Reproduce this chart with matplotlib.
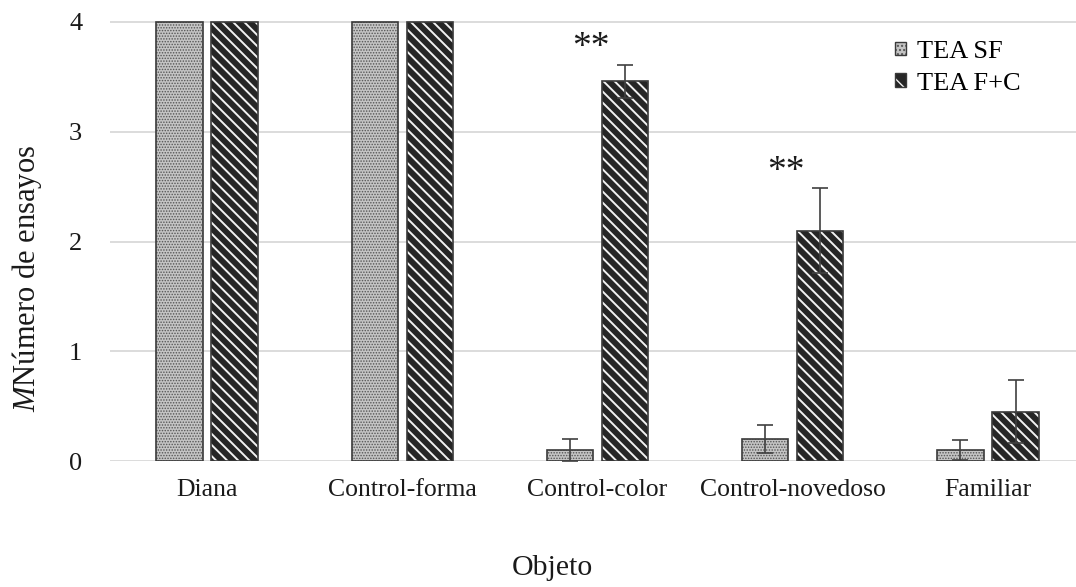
import matplotlib
matplotlib.use("Agg")
import matplotlib.pyplot as plt
import numpy as np
from matplotlib.patches import Rectangle
from matplotlib.legend_handler import HandlerTuple

categories = ["Diana", "Control-forma", "Control-color", "Control-novedoso", "Familiar"]
tea_sf = [4.0, 4.0, 0.10, 0.20, 0.10]
tea_sf_err = [0.0, 0.0, 0.10, 0.13, 0.09]
tea_fc = [4.0, 4.0, 3.46, 2.10, 0.45]
tea_fc_err = [0.0, 0.0, 0.15, 0.39, 0.29]
signif = ["", "", "**", "**", ""]
signif_y = [0, 0, 3.68, 2.55, 0]
series_labels = ["TEA SF", "TEA F+C"]
yticks = [0, 1, 2, 3, 4]

plt.rcParams['font.family'] = ['Liberation Serif', 'DejaVu Serif']
plt.rcParams['mathtext.fontset'] = 'custom'
plt.rcParams['mathtext.rm'] = 'Liberation Serif'
plt.rcParams['mathtext.it'] = 'Liberation Serif:italic'

W, H = 1076, 587
fig = plt.figure(figsize=(W / 100, H / 100), dpi=100)
px_per_unit = 109.75
ytop = 4.05
ax_bottom_px = 461
ax_top_px = 22 - (ytop - 4) * px_per_unit
ax = fig.add_axes([110 / W, 1 - ax_bottom_px / H, 1 - 110 / W, (ax_bottom_px - ax_top_px) / H])

x = np.arange(len(categories))
cat_px = 195.25
xl = -(207 - 110) / cat_px
xr = 4 + (1076 - 988) / cat_px
width = 0.236
off = 0.141

edge = '#3a3a3a'
sf_face = '#c4c4c4'
sf_hatch = '#555555'
fc_face = '#262626'
fc_hatch = '#f2f2f2'
sf_pattern = '......'
fc_pattern = '\\\\\\'


def hatched_bars(xpos, vals, face, hcol, hatch, hlw):
    with plt.rc_context({'hatch.linewidth': hlw}):
        b = ax.bar(xpos, vals, width, color=face, edgecolor=hcol, hatch=hatch,
                   linewidth=0, zorder=3)
    for p in b:
        try:
            p.set_hatch_linewidth(hlw)
        except AttributeError:
            pass
    ax.bar(xpos, vals, width, fill=False, edgecolor=edge, linewidth=1.2, zorder=4)
    return b


b1 = hatched_bars(x - off, tea_sf, sf_face, sf_hatch, sf_pattern, 0.7)
b2 = hatched_bars(x + off, tea_fc, fc_face, fc_hatch, fc_pattern, 1.4)

for xs, vals, errs in [(x - off, tea_sf, tea_sf_err), (x + off, tea_fc, tea_fc_err)]:
    for xi, v, e in zip(xs, vals, errs):
        if e > 0:
            ax.errorbar(xi, v, yerr=e, fmt='none', ecolor='#404040', elinewidth=1.2,
                        capsize=5.5, capthick=1.2, zorder=5)

for xi, s, sy in zip(x, signif, signif_y):
    if s:
        ax.text(xi - 0.035, sy, s, ha='center', va='baseline', fontsize=27,
                color='#1a1a1a', zorder=6)

ax.set_xlim(xl, xr)
ax.set_ylim(0, ytop)
ax.set_yticks(yticks)
ax.set_yticklabels([str(t) for t in yticks], fontsize=19)
ax.set_xticks(x)
ax.set_xticklabels(categories, fontsize=18.5)
ax.tick_params(axis='both', length=0, colors='#1a1a1a')
ax.tick_params(axis='y', pad=20)
ax.tick_params(axis='x', pad=13)
for s in ax.spines.values():
    s.set_visible(False)
ax.yaxis.grid(True, color='#d9d9d9', linewidth=1.3, zorder=0)
ax.set_axisbelow(True)

fig.text(27 / W, 1 - 278 / H, r"$\mathit{M}$Número de ensayos", rotation=90,
         ha='center', va='center', fontsize=22, color='#1a1a1a')
fig.text(552 / W, 1 - 568 / H, "Objeto", ha='center', va='center', fontsize=21.5, color='#1a1a1a')

# legend handles
with plt.rc_context({'hatch.linewidth': 0.6}):
    h1a = Rectangle((0, 0), 1, 1, facecolor=sf_face, edgecolor=sf_hatch, hatch='....', linewidth=0)
with plt.rc_context({'hatch.linewidth': 1.4}):
    h2a = Rectangle((0, 0), 1, 1, facecolor=fc_face, edgecolor=fc_hatch, hatch='\\\\', linewidth=0)
for h, lw in [(h1a, 0.6), (h2a, 1.4)]:
    try:
        h.set_hatch_linewidth(lw)
    except AttributeError:
        pass
h1b = Rectangle((0, 0), 1, 1, fill=False, edgecolor=edge, linewidth=1.0)
h2b = Rectangle((0, 0), 1, 1, fill=False, edgecolor=edge, linewidth=1.0)
leg = ax.legend([(h1a, h1b), (h2a, h2b)], series_labels,
                handler_map={tuple: HandlerTuple(ndivide=1)},
                loc='upper left', bbox_to_anchor=(895 / W, 1 - 41 / H),
                bbox_transform=fig.transFigure, frameon=False, fontsize=19,
                handlelength=0.42, handleheight=0.42, handletextpad=0.42,
                labelspacing=0.36, borderpad=0, borderaxespad=0)

fig.savefig("out.png", dpi=100)
